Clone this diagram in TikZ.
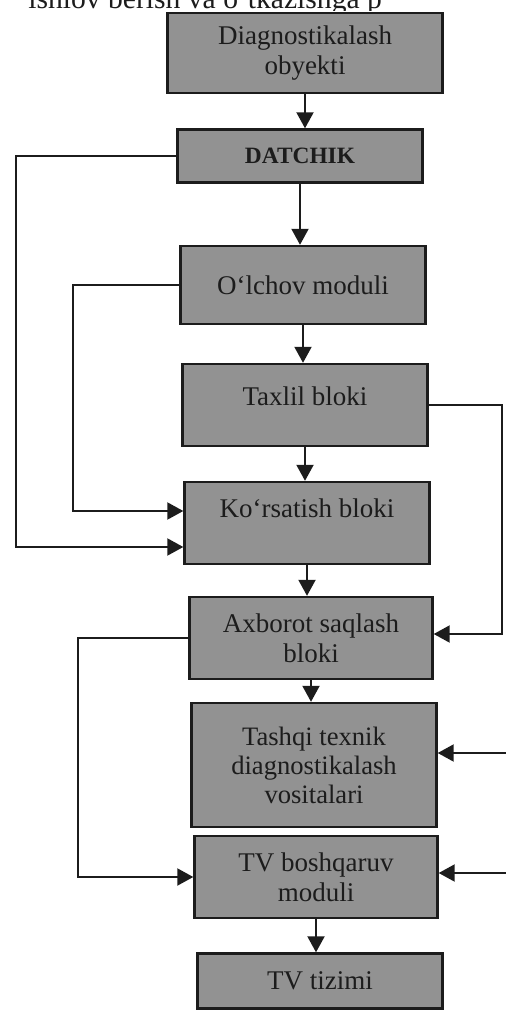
\documentclass[tikz,border=0pt]{standalone}
\usepackage{fontspec}
\setmainfont{Liberation Serif}
\usetikzlibrary{arrows.meta}

\definecolor{boxgray}{RGB}{146,146,146}
\definecolor{ink}{RGB}{28,28,28}

\begin{document}
\begin{tikzpicture}[
  x=0.5pt, y=-0.5pt,
  box/.style={rectangle, draw=ink, line width=1.2pt, fill=boxgray,
    minimum width=122.5pt, minimum height=41pt, align=center, text=ink,
    font=\fontsize{13.5}{15}\selectfont},
  arr/.style={-{Triangle[length=8pt,width=8.5pt]}, line width=1pt, draw=ink}
]
\useasboundingbox (0,0) rectangle (506,1010);

% running text of the page, cut by the top edge
\begin{scope}
  \clip (0,0) rectangle (506,11);
  \node[anchor=base west, inner sep=0pt, text=ink, font=\fontsize{14.8}{17}\selectfont]
    (pagetext) at (28,9) {ishlov berish va o‘tkazishga p};
\end{scope}

% blocks
\node[box, minimum width=137.5pt, minimum height=40pt] (diag) at (305,53) {Diagnostikalash\\obyekti};
\node[box, minimum height=26.5pt, font=\fontsize{11.7}{14}\selectfont\bfseries] (datchik) at (300,156) {DATCHIK};
\node[box, minimum height=39pt] (olchov) at (303,285) {O‘lchov moduli};
\node[box] (taxlil) at (305,405) {Taxlil bloki\\[-6pt]\mbox{}};
\node[box] (korsat) at (307,523) {Ko‘rsatish bloki\\\mbox{}};
\node[box, minimum width=121.5pt] (axborot) at (311,638) {Axborot saqlash\\bloki};
\node[box, minimum height=62pt, font=\fontsize{13.3}{14.5}\selectfont] (tashqi) at (314,765) {Tashqi texnik\\diagnostikalash\\vositalari};
\node[box, minimum width=121.5pt] (tvbosh) at (316,877) {TV boshqaruv\\moduli};
\node[box, minimum height=27.5pt] (tvtiz) at (320,981) {TV tizimi};

% main chain
\draw[arr] (diag) -- (diag |- datchik.north);
\draw[arr] (datchik) -- (datchik |- olchov.north);
\draw[arr] (olchov) -- (olchov |- taxlil.north);
\draw[arr] (taxlil) -- (taxlil |- korsat.north);
\draw[arr] (korsat) -- (korsat |- axborot.north);
\draw[arr] (axborot) -- (axborot |- tashqi.north);
\draw[arr] (tvbosh) -- (tvbosh |- tvtiz.north);

% side links on the left
\draw[arr] (datchik.west) -- (datchik.west -| 16,0) |- ([yshift=-12pt]korsat.west);
\draw[arr] (olchov.west) -- (olchov.west -| 73,0) |- ([yshift=6pt]korsat.west);
\draw[arr] (axborot.west) -- (axborot.west -| 78,0) |- (tvbosh.west);

% side links on the right
\coordinate (ext1) at (506,753);
\coordinate (ext2) at (506,873);
\draw[arr] (taxlil.east) -- (taxlil.east -| 502,0) |- ([yshift=2pt]axborot.east);
\draw[arr] (ext1) -- (ext1 -| tashqi.east);
\draw[arr] (ext2) -- (ext2 -| tvbosh.east);
\end{tikzpicture}
\end{document}
